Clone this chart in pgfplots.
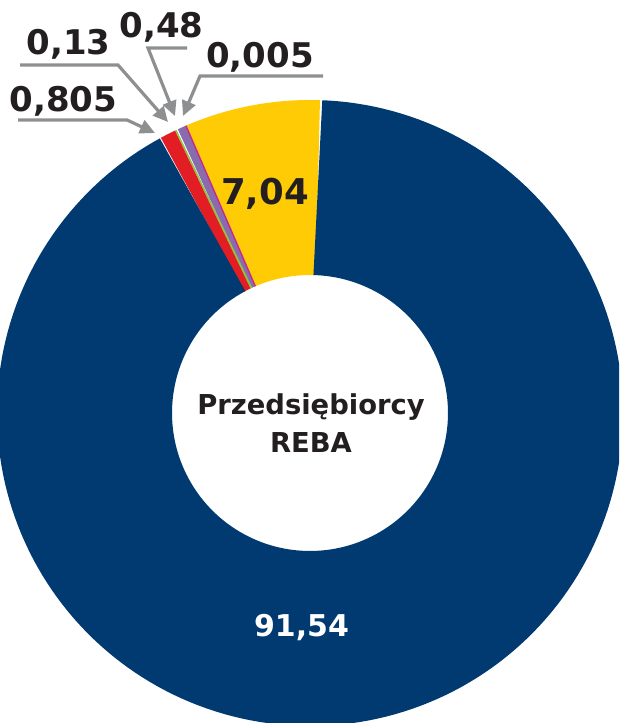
\documentclass[border=0pt]{standalone}
\usepackage{pgfplots}
\pgfplotsset{compat=1.18}
\usepackage{pgfplotstable}
\usepackage{fontspec}
\usetikzlibrary{arrows.meta}
\newfontfamily\osb{DejaVu Sans}
\definecolor{cnavy}{HTML}{003A70}
\definecolor{cyellow}{HTML}{FFCB05}
\definecolor{cred}{HTML}{E31D24}
\definecolor{cgreen}{HTML}{8CC63F}
\definecolor{cpurple}{HTML}{8A6BB0}
\definecolor{cmag}{HTML}{C42A8E}
\definecolor{ctext}{HTML}{231F20}
\definecolor{cgray}{HTML}{8D8F91}

% shares (%), counter-clockwise from the start angle
\pgfplotstableread{
name    value
yellow  7.04
magenta 0.005
purple  0.48
green   0.13
red     0.805
navy    91.54
}\shares

\pgfplotstablegetelem{0}{value}\of\shares \let\vA\pgfplotsretval
\pgfplotstablegetelem{1}{value}\of\shares \let\vB\pgfplotsretval
\pgfplotstablegetelem{2}{value}\of\shares \let\vC\pgfplotsretval
\pgfplotstablegetelem{3}{value}\of\shares \let\vD\pgfplotsretval
\pgfplotstablegetelem{4}{value}\of\shares \let\vE\pgfplotsretval
\pgfplotstablegetelem{5}{value}\of\shares \let\vF\pgfplotsretval
\pgfmathsetmacro\aA{88}
\pgfmathsetmacro\aB{\aA+3.6*\vA}
\pgfmathsetmacro\aC{\aB+3.6*\vB}
\pgfmathsetmacro\aD{\aC+3.6*\vC}
\pgfmathsetmacro\aE{\aD+3.6*\vD}
\pgfmathsetmacro\aF{\aE+3.6*\vE}
\pgfmathsetmacro\aG{\aF+3.6*\vF}
\pgfmathsetmacro\aMid{(\aB+\aC)/2}

\begin{document}
\begin{tikzpicture}
\begin{axis}[
  x=1pt, y=1pt,
  xmin=-310, xmax=309, ymin=-310, ymax=413,
  hide axis, clip=true,
]
% ring: mid radius 225.5, thickness 175 (outer 313, inner 138)
\addplot[draw=cyellow, line width=175pt, domain=\aA:\aB, samples=60] ({225.5*cos(x)},{225.5*sin(x)});
\addplot[draw=cpurple, line width=175pt, domain=\aC:\aD, samples=5] ({225.5*cos(x)},{225.5*sin(x)});
\addplot[draw=cgreen, line width=175pt, domain=\aD:\aE, samples=3] ({225.5*cos(x)},{225.5*sin(x)});
\addplot[draw=cred, line width=175pt, domain=\aE:\aF, samples=8] ({225.5*cos(x)},{225.5*sin(x)});
\addplot[draw=cnavy, line width=175pt, domain=\aF:\aG, samples=200] ({225.5*cos(x)},{225.5*sin(x)});
\addplot[draw=cmag, line width=1.4pt, domain=138:313, samples=2] ({x*cos(\aMid)},{x*sin(\aMid)});

% leader lines
\tikzset{lead/.style={cgray, line width=3.2pt, -{Triangle[length=15pt,width=14pt]}}}
\draw[lead] (axis cs:-292,293) -- (axis cs:-183,293) -- (axis cs:-155,280);
\draw[lead] (axis cs:-290,348) -- (axis cs:-192,348) -- (axis cs:-142,291);
\draw[lead] (axis cs:-123,365) -- (axis cs:-162,365) -- (axis cs:-135,297);
\draw[lead] (axis cs:13,337) -- (axis cs:-110,337) -- (axis cs:-127,297);

% labels
\tikzset{lab/.style={anchor=base, inner sep=0pt, text=ctext, font=\osb\bfseries\fontsize{34}{34}\selectfont}}
\node[lab] at (axis cs:-246.5,301) {0,805};
\node[lab] at (axis cs:-241.5,358) {0,13};
\node[lab] at (axis cs:-148.5,375) {0,48};
\node[lab] at (axis cs:-50,345) {0,005};
\node[lab, font=\osb\bfseries\fontsize{35.5}{36}\selectfont] at (axis cs:-45,208) {7,04};
\node[lab, text=white, font=\osb\bfseries\fontsize{30}{30}\selectfont] at (axis cs:-8.5,-224) {91,54};
\node[lab, font=\osb\bfseries\fontsize{27.4}{27}\selectfont] at (axis cs:1,-2) {Przedsiębiorcy};
\node[lab, font=\osb\bfseries\fontsize{27.4}{27}\selectfont] at (axis cs:1,-40) {REBA};
\end{axis}
\pgfresetboundingbox
\path (current axis.south west) rectangle (current axis.north east);
\end{tikzpicture}
\end{document}
